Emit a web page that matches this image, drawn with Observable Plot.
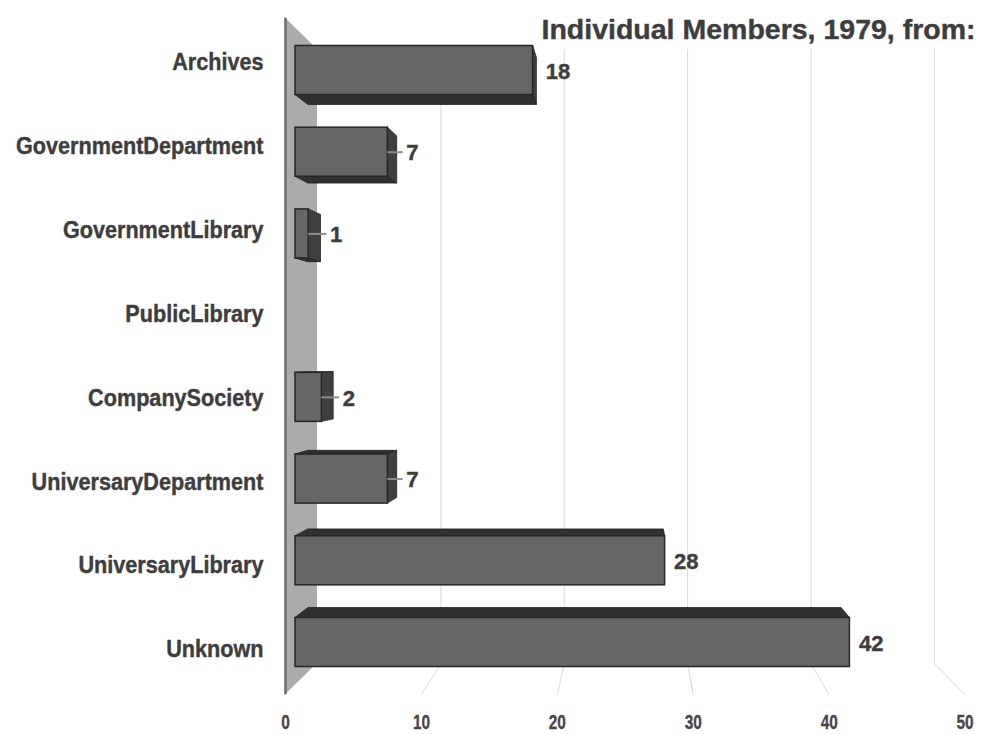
<!DOCTYPE html>
<html><head><meta charset="utf-8">
<script src="https://cdn.jsdelivr.net/npm/d3@7"></script>
<script src="https://cdn.jsdelivr.net/npm/@observablehq/plot@0.6"></script>
<style>
html,body{margin:0;padding:0;background:#fff;}
#chart svg{display:block;font-family:"Liberation Sans",Arial,Helvetica,sans-serif;}
</style></head><body><div id="chart"></div>
<script>
const categories = ["Archives","GovernmentDepartment","GovernmentLibrary","PublicLibrary","CompanySociety","UniversaryDepartment","UniversaryLibrary","Unknown"];
const values = [18, 7, 1, 0, 2, 7, 28, 42];
const xTicks = [0, 10, 20, 30, 40, 50];
const title = "Individual Members, 1979, from:";

// pseudo-3D perspective (in data units, about a vanishing point)
const VX = 25.5, VY = 3.5;
const persp = k => ({x: v => VX + k * (v - VX), y: i => VY + k * (i - VY)});
const barBack = persp(0.962), boxFront = persp(1.0297), boxBack = persp(0.9346), labelPlane = persp(1.026);
const H = 0.3;                       // half bar thickness, band units
const BOX_TOP = -0.52, BOX_BOTTOM = 7.52;

const bars = categories.map((c, i) => ({c, i, v: values[i]})).filter(d => d.v > 0);
const backEnd = d => Math.max(d.v, barBack.x(d.v));

const sideFaces = bars.filter(d => barBack.x(d.v) > d.v).flatMap(d => [
  {z: d.c, x: d.v, y1: d.i - H, y2: d.i + H},
  {z: d.c, x: barBack.x(d.v), y1: barBack.y(d.i - H), y2: barBack.y(d.i + H)}
]);
const capFaces = bars.flatMap(d => {
  const edge = d.i < VY ? d.i + H : d.i - H;
  return [
    {z: d.c, y: edge, x1: 0, x2: d.v},
    {z: d.c, y: barBack.y(edge), x1: barBack.x(0), x2: barBack.x(d.v)}
  ];
});
const wall = [
  {x: boxFront.x(0), y1: boxFront.y(BOX_TOP), y2: boxFront.y(BOX_BOTTOM)},
  {x: boxBack.x(0), y1: boxBack.y(BOX_TOP), y2: boxBack.y(BOX_BOTTOM)}
];
const gridTicks = xTicks.filter(t => t > 0);
const leaders = bars.filter(d => d.v < 10);
const ink = "#3d3d3d";

const chart = Plot.plot({
  width: 992, height: 734,
  marginLeft: 263, marginRight: 17, marginTop: 18, marginBottom: 12,
  x: {type: "linear", domain: [0, 50], range: [295, 955], axis: null},
  y: {type: "linear", domain: [0, 7], range: [70, 642], axis: null},
  marks: [
    // back-plane grid
    Plot.ruleX(gridTicks, {x: t => boxBack.x(t), y1: () => boxBack.y(BOX_TOP), y2: () => boxBack.y(BOX_BOTTOM), stroke: "#d8d8d8", strokeWidth: 1}),
    Plot.link(gridTicks, {x1: t => boxBack.x(t), y1: () => boxBack.y(BOX_BOTTOM), x2: t => boxFront.x(t), y2: () => boxFront.y(BOX_BOTTOM), stroke: "#d8d8d8", strokeWidth: 1}),
    // left wall
    Plot.areaY(wall, {x: "x", y1: "y1", y2: "y2", fill: "#ababab", curve: "linear"}),
    Plot.ruleX([0], {x: () => boxFront.x(0), y1: () => boxFront.y(BOX_TOP), y2: () => boxFront.y(BOX_BOTTOM), stroke: "#6e6e6e", strokeWidth: 2.5}),
    // bar depth faces
    Plot.areaX(capFaces, {y: "y", x1: "x1", x2: "x2", z: "z", fill: "#303030", stroke: "#1e1e1e", strokeWidth: 0.8, curve: "linear"}),
    Plot.areaY(sideFaces, {x: "x", y1: "y1", y2: "y2", z: "z", fill: "#3f3f3f", stroke: "#222", strokeWidth: 0.8, curve: "linear"}),
    // bar fronts
    Plot.rect(bars, {x1: () => 0, x2: "v", y1: d => d.i - H, y2: d => d.i + H, fill: "#666", stroke: "#262626", strokeWidth: 1.5}),
    // leaders + value labels
    Plot.ruleY(leaders, {y: "i", x1: "v", x2: backEnd, insetRight: -6, stroke: "#8c8c8c", strokeWidth: 2}),
    Plot.text(bars, {x: backEnd, y: "i", text: d => String(d.v), textAnchor: "start", dx: 9, dy: 1, fontSize: 22.5, fontWeight: "bold", fill: ink, stroke: ink, strokeWidth: 0.4, ariaDescription: "values"}),
    // category labels
    Plot.text(categories, {y: (d, i) => labelPlane.y(i), text: d => d, frameAnchor: "left", textAnchor: "end", fontSize: 23, fontWeight: "bold", fill: ink, stroke: ink, strokeWidth: 0.4, ariaDescription: "cats"}),
    // x tick labels on front floor edge
    Plot.text(xTicks, {x: t => boxFront.x(t), text: t => String(t), frameAnchor: "bottom", lineAnchor: "middle", fontSize: 20.5, fontWeight: "bold", fill: "#454545", stroke: "#454545", strokeWidth: 0.3, ariaDescription: "xticks"}),
    // title
    Plot.text([title], {text: d => d, frameAnchor: "top-right", lineAnchor: "top", fontSize: 28.5, fontWeight: "bold", fill: ink, stroke: ink, strokeWidth: 0.4})
  ]
});
document.getElementById("chart").appendChild(chart);
const squeeze = (desc, f) => chart.querySelectorAll(`g[aria-description="${desc}"] text`).forEach(t => {
  const w = t.getComputedTextLength();
  t.setAttribute("textLength", (w * f).toFixed(1));
  t.setAttribute("lengthAdjust", "spacingAndGlyphs");
});
squeeze("xticks", 0.75);
squeeze("cats", 0.94);
squeeze("values", 0.98);
</script></body></html>
